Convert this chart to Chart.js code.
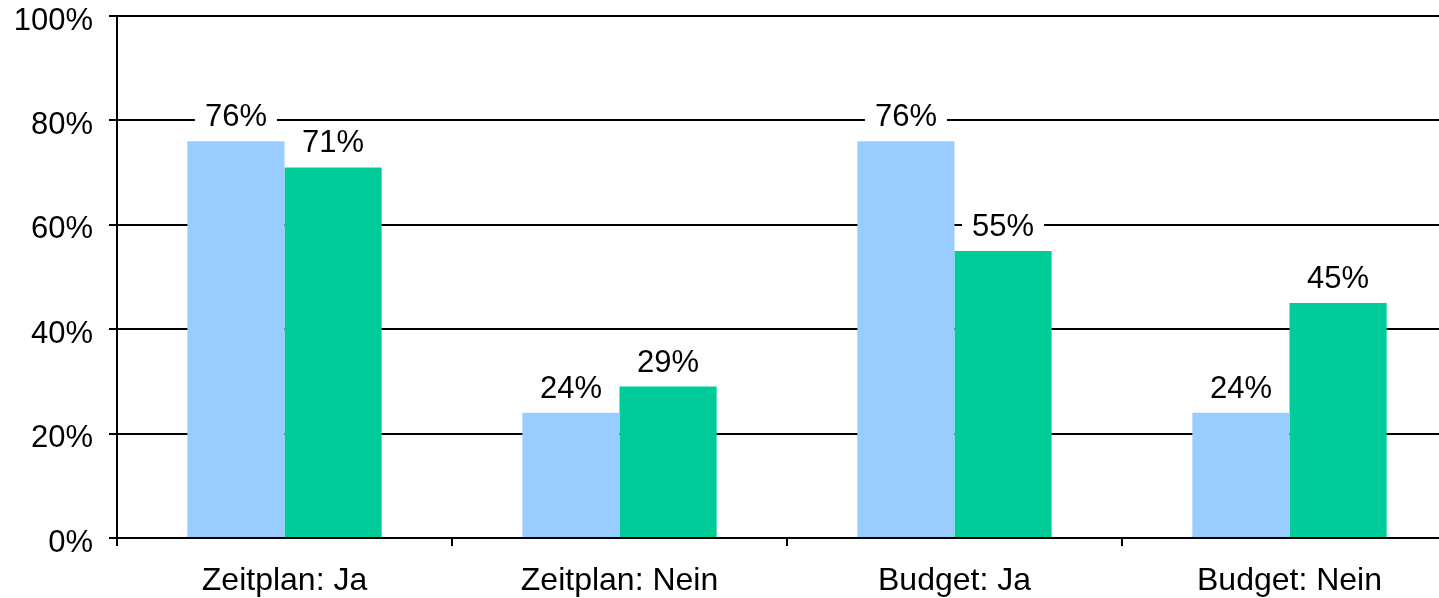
<!DOCTYPE html>
<html><head><meta charset="utf-8">
<script src="https://cdn.jsdelivr.net/npm/chart.js@4"></script>
<style>
html,body{margin:0;padding:0;overflow:hidden;background:#fff;width:1439px;height:598px}
#wrap{position:absolute;left:0;top:0;width:1457px;height:598px}
</style></head>
<body><div id="wrap"><canvas id="c" width="1457" height="598"></canvas></div>
<script>
const categories = ['Zeitplan: Ja', 'Zeitplan: Nein', 'Budget: Ja', 'Budget: Nein'];
const seriesA = [76, 24, 76, 24];
const seriesB = [71, 29, 55, 45];
const yTickValues = [0, 20, 40, 60, 80, 100];

const FONT = '"Liberation Sans", Arial, sans-serif';

const labelPlugin = {
  id: 'valueLabels',
  afterDatasetsDraw(chart) {
    const ctx = chart.ctx;
    ctx.save();
    ctx.font = '31px ' + FONT;
    ctx.textAlign = 'center';
    ctx.textBaseline = 'alphabetic';
    chart.data.datasets.forEach((ds, i) => {
      chart.getDatasetMeta(i).data.forEach((bar, j) => {
        const txt = ds.data[j] + '%';
        const w = ctx.measureText(txt).width;
        const base = bar.y - 15;
        ctx.fillStyle = '#fff';
        ctx.fillRect(bar.x - w / 2 - 10, base - 29, w + 20, 36);
        ctx.fillStyle = '#000';
        ctx.fillText(txt, bar.x, base);
      });
    });
    ctx.restore();
  }
};

new Chart(document.getElementById('c'), {
  type: 'bar',
  data: {
    labels: categories,
    datasets: [
      { data: seriesA, backgroundColor: '#99CCFF', borderWidth: 0 },
      { data: seriesB, backgroundColor: '#00CC99', borderWidth: 0 }
    ]
  },
  options: {
    responsive: false,
    animation: false,
    devicePixelRatio: 1,
    layout: { padding: { top: 16, left: 0, right: 0, bottom: 0 } },
    plugins: { legend: { display: false }, tooltip: { enabled: false } },
    datasets: { bar: { categoryPercentage: 0.58, barPercentage: 1.0 } },
    scales: {
      x: {
        offset: true,
        grid: { display: true, drawOnChartArea: false, drawTicks: true, tickLength: 8, color: '#000', lineWidth: 2, offset: true },
        border: { display: true, color: '#000', width: 2 },
        ticks: { color: '#000', padding: 16, font: { family: FONT, size: 32, lineHeight: 1.2 }, maxRotation: 0 },
        afterFit(scale) { scale.height = 60; scale.paddingLeft = 0; scale.paddingRight = 0; }
      },
      y: {
        min: 0, max: 100,
        afterBuildTicks(scale) { scale.ticks = yTickValues.map(v => ({ value: v })); },
        grid: { color: '#000', lineWidth: 2, tickLength: 8, drawTicks: true },
        border: { display: true, color: '#000', width: 2 },
        ticks: { color: '#000', padding: 16, labelOffset: 5, font: { family: FONT, size: 31, lineHeight: 1 }, callback: v => v + '%' },
        afterFit(scale) { scale.width = 117; scale.paddingTop = 0; scale.paddingBottom = 0; }
      }
    }
  },
  plugins: [labelPlugin]
});
</script>
</body></html>
